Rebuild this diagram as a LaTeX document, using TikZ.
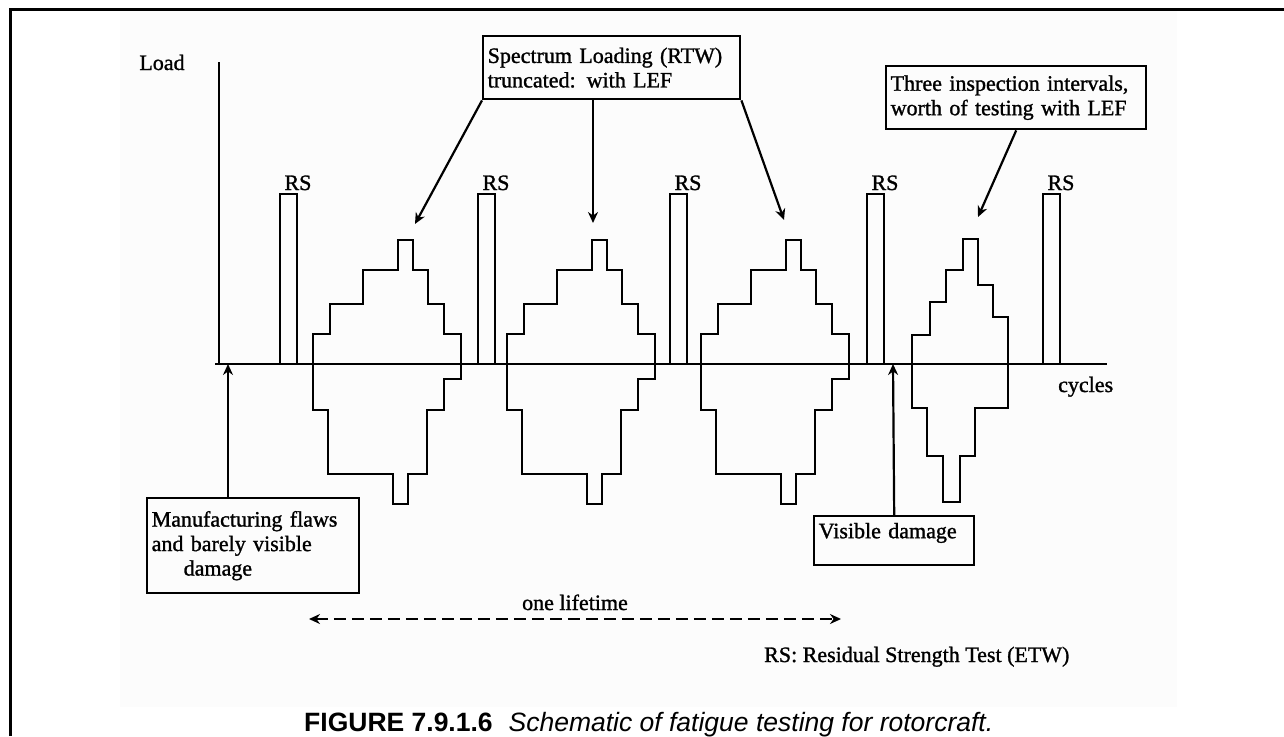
\documentclass[tikz,border=0pt]{standalone}
\usepackage{fontspec}
\setmainfont{Liberation Serif}
\newfontfamily\scanfont{Liberation Serif}[FakeBold=1.2]
\newfontfamily\capfont{Liberation Sans}
\usetikzlibrary{arrows.meta,positioning}
\newcommand{\plotfont}{\scanfont\fontsize{22}{24.5}\selectfont}

\begin{document}
\begin{tikzpicture}[
  x=1pt, y=-1pt, >={Stealth[length=11pt,width=10pt]}, line width=2.4pt,
  note/.style={draw,anchor=north west,align=left,inner xsep=4.5pt,inner ysep=0pt,font=\plotfont},
  lbl/.style={font=\plotfont,inner sep=0pt},
  trace/.style={line width=2.6pt,line join=miter},
  ptr/.style={->,line width=2.2pt}]
  \useasboundingbox (0,0) rectangle (1284,736);
  % scanned sheet and frame
  \fill[black!1.2] (120,10) rectangle (1177,707);
  \draw[line width=3pt] (10,736) -- (10,9) -- (1284,9);

  % axes
  \coordinate (ytop) at (219,62);
  \coordinate (orig) at (219,364);
  \coordinate (xend) at (1107,364);
  \draw (ytop) -- (orig);
  \draw (215,364) -- (xend);
  \node[lbl,anchor=base] (load) at (162,70) {Load};
  \node[lbl,anchor=base west] (cyc) at (1057,392) {cycles};

  % residual strength tests
  \foreach \x [count=\i] in {280,478,670,867,1043} {
    \draw (\x,364) |- (\x+17,194) -- (\x+17,364);
    \node[lbl,anchor=base] (rs\i) at (\x+18,190) {RS};
  }

  % spectrum blocks
  \foreach \L in {313,507,701}
    \draw[trace] (\L,334) -- ++(17,0) -- ++(0,-30) -- ++(33,0) -- ++(0,-34)
      -- ++(35,0) -- ++(0,-30) -- ++(15,0) -- ++(0,30) -- ++(15,0) -- ++(0,34)
      -- ++(16,0) -- ++(0,30) -- ++(17,0) -- ++(0,45) -- ++(-17,0) -- ++(0,31)
      -- ++(-17,0) -- ++(0,64) -- ++(-19,0) -- ++(0,30) -- ++(-15,0) -- ++(0,-30)
      -- ++(-65,0) -- ++(0,-64) -- ++(-15,0) -- cycle;
  \draw[trace] (912,335) -- (930,335) -- (930,302) -- (946,302) -- (946,270)
    -- (963,270) -- (963,239) -- (978,239) -- (978,285) -- (993,285) -- (993,317)
    -- (1008,317) -- (1008,408) -- (975,408) -- (975,456) -- (960,456) -- (960,502)
    -- (943,502) -- (943,456) -- (927,456) -- (927,408) -- (912,408) -- cycle;

  % callouts
  \node[note,text width=248pt,minimum height=63pt] (spec) at (482,35)
    {Spectrum Loading (RTW)\\truncated: with LEF};
  \node[note,text width=251pt,minimum height=63pt] (three) at (885,65)
    {Three inspection intervals,\\worth of testing with LEF};
  \node[note,text width=203pt,minimum height=95pt] (manu) at (146,497)
    {Manufacturing flaws\\and barely visible\\\hspace*{32pt}damage};
  \node[note,text width=151pt,inner ysep=7pt,text height=15pt,text depth=20pt] (vis) at (813,515)
    {Visible damage};

  \coordinate (hit1) at (415,224);
  \coordinate (hit2) at (593,223);
  \coordinate (hit3) at (784,220);
  \coordinate (hit4) at (978,217);
  \coordinate (mf) at (228,364);
  \coordinate (vd) at (893,364);
  \draw[ptr] (spec.south west) -- (hit1);
  \draw[ptr] (spec.south -| hit2) -- (hit2);
  \draw[ptr] (spec.south east) -- (hit3);
  \draw[ptr] (three.south) -- (hit4);
  \draw[ptr] (manu.north -| mf) -- (mf);
  \draw[ptr] (vis.north) -- (vd);

  % lifetime
  \coordinate (lifeL) at (309,619);
  \coordinate (lifeR) at (841,619);
  \node[lbl,anchor=base] (life) at (575,610) {one lifetime};
  \draw[<->,line width=2.8pt,dash pattern=on 12pt off 6pt] (lifeL) -- (lifeR);
  \node[lbl,anchor=base west] (key) at (763,662) {RS: Residual Strength Test (ETW)};

  % caption
  \node[anchor=base west,inner sep=0pt,font=\capfont\fontsize{26.5}{30}\selectfont] (cap) at (303,731)
    {\textbf{FIGURE 7.9.1.6}\hspace{0.6em}\textit{Schematic of fatigue testing for rotorcraft.}};
\end{tikzpicture}
\end{document}
